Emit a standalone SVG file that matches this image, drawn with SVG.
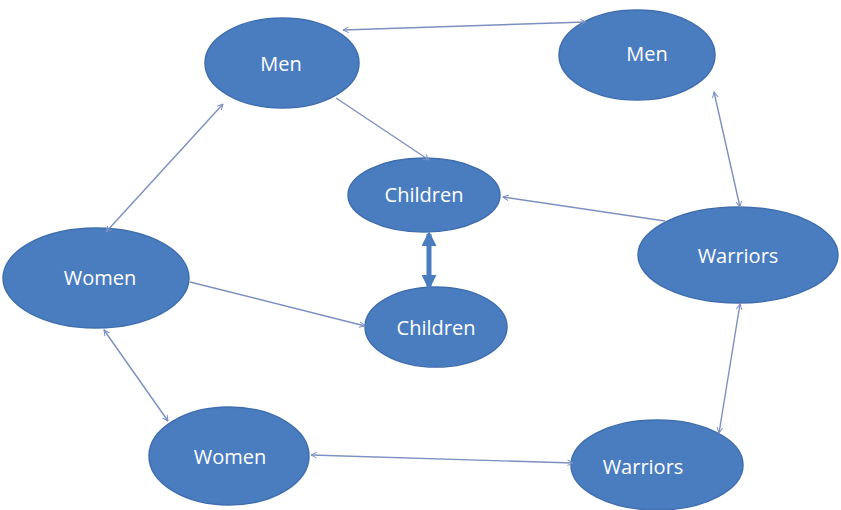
<svg xmlns="http://www.w3.org/2000/svg" width="841" height="510" viewBox="0 0 841 510">
<style>
.node ellipse{fill:#4a7dc0;stroke:#3f6eae;stroke-width:1.5}
.node text{fill:#ffffff;font-family:"Open Sans","Liberation Sans",sans-serif;font-size:20px;text-anchor:middle;dominant-baseline:central}
.conn line{stroke:#7b8fc0;stroke-width:1.4;fill:none}
.thick{stroke:#4a7dc0 !important;stroke-width:5 !important}
</style>
<defs>
<marker id="a" viewBox="0 0 10 10" refX="9" refY="5" markerWidth="7" markerHeight="7" markerUnits="userSpaceOnUse" orient="auto-start-reverse">
<path d="M1,1 L9,5 L1,9" fill="none" stroke="#7b8fc0" stroke-width="1.4"/>
</marker>
<marker id="b" viewBox="0 0 10 10" refX="8" refY="5" markerWidth="3" markerHeight="3" orient="auto-start-reverse">
<path d="M0,0 L10,5 L0,10 Z" fill="#4a7dc0"/>
</marker>
</defs>
<rect width="841" height="510" fill="#ffffff"/>
<g id="men1" class="node"><ellipse cx="282" cy="63" rx="77" ry="45"/><text x="281" y="63">Men</text></g>
<g id="men2" class="node"><ellipse cx="637" cy="55" rx="78" ry="45"/><text x="647" y="53">Men</text></g>
<g id="children1" class="node"><ellipse cx="424" cy="195" rx="76" ry="37"/><text x="424" y="194">Children</text></g>
<g id="warriors1" class="node"><ellipse cx="738" cy="255" rx="100" ry="48"/><text x="738" y="255">Warriors</text></g>
<g id="women1" class="node"><ellipse cx="96" cy="278" rx="93" ry="50"/><text x="100" y="277">Women</text></g>
<g id="children2" class="node"><ellipse cx="436" cy="327" rx="71" ry="40"/><text x="436" y="327">Children</text></g>
<g id="women2" class="node"><ellipse cx="229" cy="456" rx="80" ry="49"/><text x="230" y="456">Women</text></g>
<g id="warriors2" class="node"><ellipse cx="657" cy="465" rx="86" ry="45"/><text x="643" y="466">Warriors</text></g>
<g id="connectors" class="conn">
<line x1="343" y1="30" x2="586" y2="22" marker-start="url(#a)" marker-end="url(#a)"/>
<line x1="336" y1="98" x2="429" y2="160" marker-end="url(#a)"/>
<line x1="223" y1="104" x2="106" y2="232" marker-start="url(#a)" marker-end="url(#a)"/>
<line x1="714" y1="92" x2="740" y2="207" marker-start="url(#a)" marker-end="url(#a)"/>
<line x1="665" y1="221" x2="503" y2="197" marker-end="url(#a)"/>
<line class="thick" x1="429" y1="234" x2="429" y2="287" marker-start="url(#b)" marker-end="url(#b)"/>
<line x1="190" y1="282" x2="365" y2="326" marker-end="url(#a)"/>
<line x1="104" y1="330" x2="168" y2="421" marker-start="url(#a)" marker-end="url(#a)"/>
<line x1="740" y1="304" x2="719" y2="433" marker-start="url(#a)" marker-end="url(#a)"/>
<line x1="311" y1="455" x2="573" y2="463" marker-start="url(#a)" marker-end="url(#a)"/>
</g>
</svg>
